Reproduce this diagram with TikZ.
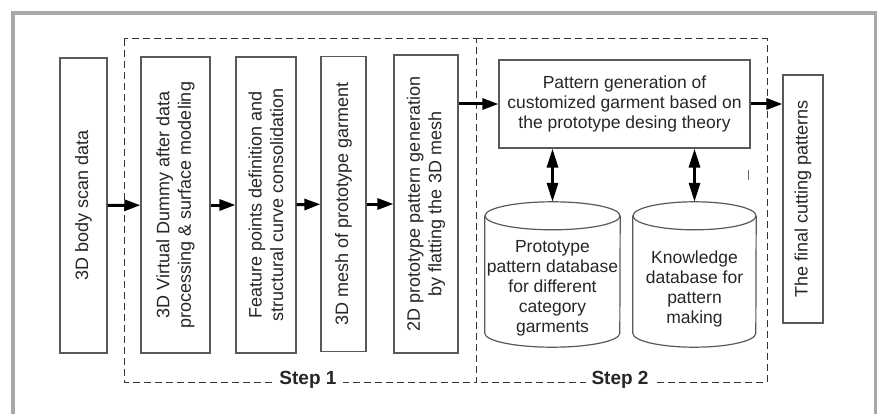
\documentclass[tikz,border=0pt]{standalone}
\usepackage{fontspec}
\setmainfont{Liberation Sans}
\usetikzlibrary{positioning,
                arrows.meta}                % arrow tips

\definecolor{framegray}{RGB}{168,168,170}

\tikzset{
  stage/.style={draw=black!65, line width=1.2pt, text=black!85, align=center,
                inner sep=0pt, font=\fontsize{17.5}{20}\selectfont},
  upstage/.style={stage, rotate=90, font=\fontsize{18}{21.5}\selectfont},
  dbtext/.style={align=center, inner sep=0pt, text=black!85,
                 font=\fontsize{17.5}{20}\selectfont},
  dbline/.style={draw=black!65, line width=1.2pt},
  phase/.style={draw=black!80, line width=1pt, dash pattern=on 7pt off 4pt},
  phaselabel/.style={fill=white, inner xsep=6pt, inner ysep=2pt, text=black!85,
                     font=\fontsize{19}{22}\bfseries\selectfont},
  flow/.style={line width=3pt, -{Triangle[length=16pt,width=11pt]}},
  dflow/.style={line width=3pt,
                {Triangle[length=19pt,width=11pt]}-{Triangle[length=19pt,width=11pt]}}
}

\begin{document}
\begin{tikzpicture}[x=1pt, y=-1pt]
      \useasboundingbox (0,0) rectangle (877,414);
      \draw[framegray, line width=4.5pt] (13,414) -- (13,13) -- (876,13) -- (876,414);

      % the two steps
      \draw[phase] (124,39) rectangle (476,382);
      \draw[phase] (476,39) -- (767,39) -- (767,382) -- (476,382);
      \node[phaselabel] (step1) at (308,380) {Step 1};
      \node[phaselabel] (step2) at (620,380) {Step 2};

      \node[upstage, minimum width=295pt, minimum height=47pt] (scan) at (83.5,205.5)
            {3D body scan data};
      \node[upstage, minimum width=296pt, minimum height=69pt] (dummy) at (175.5,205)
            {3D Virtual Dummy after data\\processing \& surface modeling};
      \node[upstage, minimum width=296pt, minimum height=60pt] (feature) at (266,205)
            {Feature points definition and\\structural curve consolidation};
      \node[upstage, minimum width=295pt, minimum height=45pt] (mesh) at (343.5,204)
            {3D mesh of prototype garment};
      \node[upstage, minimum width=298pt, minimum height=64pt] (flat) at (426,204)
            {2D prototype pattern generation\\by flatting the 3D mesh};
      \node[stage, minimum width=251pt, minimum height=88pt] (patgen) at (624.5,104)
            {Pattern generation of\\customized garment based on\\the prototype desing theory};
      \node[upstage, minimum width=248pt, minimum height=40pt] (final) at (803,199)
            {The final cutting patterns};

      \node[dbtext, minimum width=135pt, minimum height=117pt] (protodb) at (552.5,288.5)
            {Prototype\\pattern database\\for different\\category\\garments};
      \node[dbtext, minimum width=123pt, minimum height=117pt] (knowdb) at (694.5,288.5)
            {Knowledge\\database for\\pattern\\making};

      \foreach \db/\rx in {protodb/67.5, knowdb/61.5}
      {
        \draw[dbline] ([yshift=14pt]\db.north) ellipse[x radius=\rx pt, y radius=14pt];
        \draw[dbline] ([yshift=14pt]\db.north west) -- ([yshift=14pt]\db.south west)
              arc[start angle=180, end angle=360, x radius=\rx pt, y radius=14pt]
              -- ([yshift=14pt]\db.north east);
      }

      \draw[flow] (scan) -- (dummy);
      \draw[flow] (dummy) -- (feature);
      \draw[flow] (feature) -- (mesh);
      \draw[flow] (mesh) -- (flat);
      \draw[flow] (flat.south |- patgen.west) -- (patgen.west);
      \draw[flow] (patgen.east) -- (final.north |- patgen.east);

      \draw[dflow] (patgen.south -| protodb) -- ([yshift=28pt]protodb.north);
      \draw[dflow] (patgen.south -| knowdb) -- ([yshift=28pt]knowdb.north);

      \draw[black!60, line width=0.8pt] (748,170) -- (748,180);

    \end{tikzpicture}
\end{document}
